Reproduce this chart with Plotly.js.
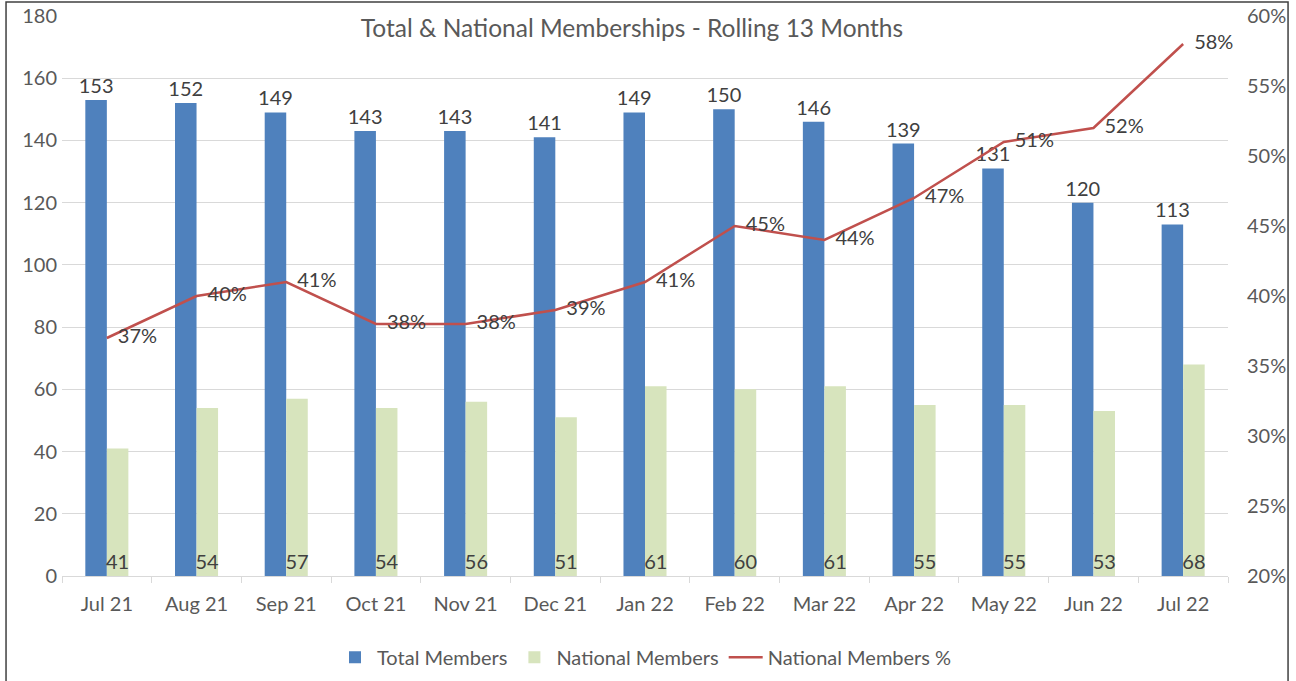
<!DOCTYPE html>
<html><head><meta charset="utf-8">
<script src="https://cdn.plot.ly/plotly-3.0.1.min.js"></script>
<style>html,body{margin:0;padding:0;background:#fff}#chart{width:1296px;height:681px}</style>
</head><body><div id="chart"></div>
<script>
const months = ["Jul 21","Aug 21","Sep 21","Oct 21","Nov 21","Dec 21","Jan 22","Feb 22","Mar 22","Apr 22","May 22","Jun 22","Jul 22"];
const totalMembers = [153,152,149,143,143,141,149,150,146,139,131,120,113];
const nationalMembers = [41,54,57,54,56,51,61,60,61,55,55,53,68];
const nationalPct = [0.37,0.40,0.41,0.38,0.38,0.39,0.41,0.45,0.44,0.47,0.51,0.52,0.58];

const FONT = "Lato, 'Open Sans', sans-serif";
const FS = 20;
const traces = [
  {type:'bar', name:'Total Members', x:months, y:totalMembers,
   marker:{color:'#4F81BD'}, text:totalMembers.map(String), textposition:'outside',
   cliponaxis:false, constraintext:'none',
   outsidetextfont:{family:FONT,size:FS,color:'#404040'}, hoverinfo:'y'},
  {type:'bar', name:'National Members', x:months, y:nationalMembers,
   marker:{color:'#D7E4BD'}, text:nationalMembers.map(String), textposition:'inside',
   insidetextanchor:'start', constraintext:'none', textangle:0,
   insidetextfont:{family:FONT,size:FS,color:'#404040'}, hoverinfo:'y'},
  {type:'scatter', mode:'lines+markers+text', name:'National Members %', x:months, y:nationalPct,
   yaxis:'y2', line:{color:'#C0504D',width:2.5}, cliponaxis:false,
   marker:{size:16, color:'rgba(0,0,0,0)', line:{width:0}},
   text:nationalPct.map(v=>Math.round(v*100)+'%'), textposition:'middle right',
   textfont:{family:FONT,size:FS,color:'#404040'}}
];
const layout = {
  width:1296, height:681,
  margin:{l:62,r:68,t:16,b:105,autoexpand:false},
  paper_bgcolor:'#fff', plot_bgcolor:'#fff',
  font:{family:FONT,color:'#595959',size:FS},
  title:{text:'Total & National Memberships - Rolling 13 Months', x:632/1296, xanchor:'center', xref:'container',
         y:1-28/681, yref:'container', yanchor:'middle',
         font:{family:FONT,size:24.5,color:'#595959'}},
  barmode:'group', bargap:0.52, bargroupgap:0,
  showlegend:true,
  legend:{orientation:'h', x:0.5, xanchor:'center', y:-0.145, yanchor:'middle',
          font:{family:FONT,size:FS,color:'#595959'}, traceorder:'normal', itemwidth:34},
  xaxis:{type:'category', range:[-0.5,12.5], automargin:false, showgrid:false, showline:true, linecolor:'#D9D9D9', linewidth:1,
         ticks:'outside', tickson:'boundaries', ticklen:6, tickcolor:'#D9D9D9', ticklabelstandoff:10,
         tickfont:{family:FONT,size:FS,color:'#595959'}},
  yaxis:{range:[0,180], dtick:20, automargin:false, showgrid:true, gridcolor:'#D9D9D9', gridwidth:1,
         zeroline:false, showline:false, ticks:'', ticklabelstandoff:4,
         tickfont:{family:FONT,size:FS,color:'#595959'}},
  yaxis2:{range:[0.2,0.6], dtick:0.05, tickformat:'.0%', overlaying:'y', side:'right', automargin:false,
          showgrid:false, zeroline:false, showline:false, ticklabelstandoff:18,
          tickfont:{family:FONT,size:FS,color:'#595959'}},
  shapes:[{type:'rect', xref:'paper', yref:'paper', x0:-0.048, x1:1.0515, y0:-0.3, y1:1.025,
           line:{color:'#404040',width:1.5}, fillcolor:'rgba(0,0,0,0)', layer:'above'}]
};
Plotly.newPlot('chart', traces, layout, {displayModeBar:false, staticPlot:true});
</script></body></html>
